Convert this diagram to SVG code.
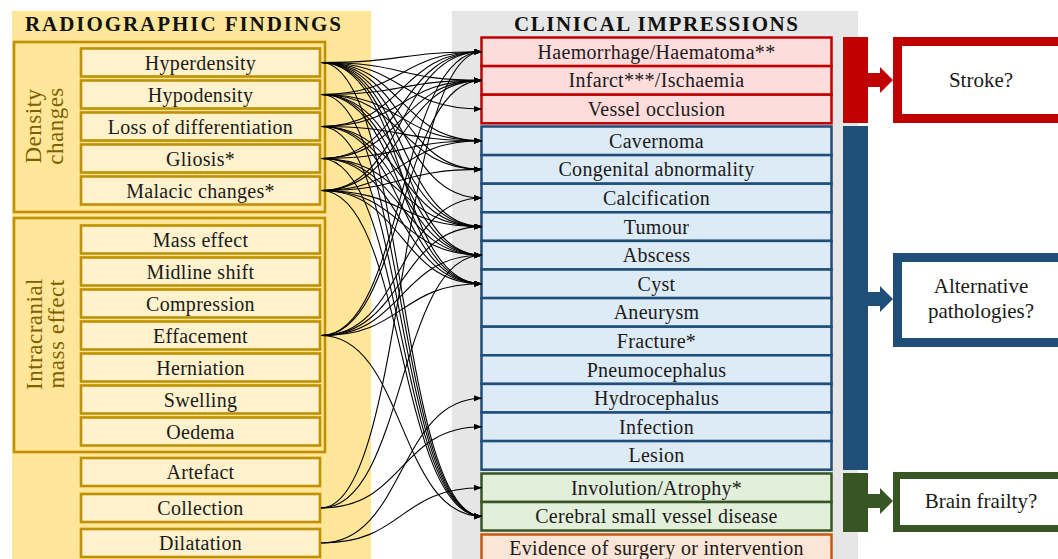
<svg xmlns="http://www.w3.org/2000/svg" width="1058" height="559" viewBox="0 0 1058 559">
<defs>
<marker id="ah" markerUnits="userSpaceOnUse" markerWidth="9" markerHeight="7" refX="8" refY="3" orient="auto">
<path d="M0,0 L8,3 L0,6 z" fill="#000"/>
</marker>
<style>
text{font-family:"Liberation Serif","DejaVu Serif",serif;fill:#1a1a1a;}
.t{font-size:20px;text-anchor:middle;letter-spacing:0.3px;}
.h{font-size:21px;font-weight:bold;fill:#111;}
.g{font-size:23px;text-anchor:middle;fill:#7F6000;letter-spacing:0.5px;}
.it{fill:#FFF2CC;stroke:#BF9000;stroke-width:2.6;}
.grp{fill:#FFE699;stroke:#BF9000;stroke-width:2.6;}
.r{fill:#FFDCDC;stroke:#C00000;stroke-width:2.5;}
.b{fill:#DDEBF7;stroke:#1F4E79;stroke-width:2.5;}
.gr{fill:#E2EFDA;stroke:#375623;stroke-width:2.5;}
.o{fill:#FBE5D6;stroke:#C55A11;stroke-width:2.5;}
.big{font-size:21px;text-anchor:middle;}
#connectors path{fill:none;stroke:#000;stroke-width:1.1;marker-end:url(#ah);}
</style>
</defs>
<rect width="1058" height="559" fill="#fff"/>
<!-- panels -->
<rect x="12" y="11" width="359" height="550" fill="#FFE699"/>
<rect x="452" y="11" width="406" height="550" fill="#E6E6E6"/>
<text class="h" x="25" y="31" textLength="316" lengthAdjust="spacing">RADIOGRAPHIC FINDINGS</text>
<text class="h" x="514" y="31" textLength="284" lengthAdjust="spacing">CLINICAL IMPRESSIONS</text>

<g id="grp-density">
<rect class="grp" x="14" y="42" width="311" height="170"/>
<text class="g" transform="translate(41,126) rotate(-90)">Density</text>
<text class="g" transform="translate(63,126) rotate(-90)">changes</text>
</g>
<g id="grp-mass">
<rect class="grp" x="14" y="218" width="311" height="234"/>
<text class="g" transform="translate(42,334) rotate(-90)">Intracranial</text>
<text class="g" transform="translate(64,334) rotate(-90)">mass effect</text>
</g>

<g id="n-hyperdensity"><rect class="it" x="81" y="48.5" width="239" height="28"/><text class="t" x="200.5" y="69.5">Hyperdensity</text></g>
<g id="n-hypodensity"><rect class="it" x="81" y="80.5" width="239" height="28"/><text class="t" x="200.5" y="101.5">Hypodensity</text></g>
<g id="n-loss"><rect class="it" x="81" y="112.5" width="239" height="28"/><text class="t" x="200.5" y="133.5">Loss of differentiation</text></g>
<g id="n-gliosis"><rect class="it" x="81" y="144.5" width="239" height="28"/><text class="t" x="200.5" y="165.5">Gliosis*</text></g>
<g id="n-malacic"><rect class="it" x="81" y="176.5" width="239" height="28"/><text class="t" x="200.5" y="197.5">Malacic changes*</text></g>

<g id="n-mass"><rect class="it" x="81" y="225.5" width="239" height="28"/><text class="t" x="200.5" y="246.5">Mass effect</text></g>
<g id="n-midline"><rect class="it" x="81" y="257.5" width="239" height="28"/><text class="t" x="200.5" y="278.5">Midline shift</text></g>
<g id="n-compression"><rect class="it" x="81" y="289.5" width="239" height="28"/><text class="t" x="200.5" y="310.5">Compression</text></g>
<g id="n-effacement"><rect class="it" x="81" y="321.5" width="239" height="28"/><text class="t" x="200.5" y="342.5">Effacement</text></g>
<g id="n-herniation"><rect class="it" x="81" y="353.5" width="239" height="28"/><text class="t" x="200.5" y="374.5">Herniation</text></g>
<g id="n-swelling"><rect class="it" x="81" y="385.5" width="239" height="28"/><text class="t" x="200.5" y="406.5">Swelling</text></g>
<g id="n-oedema"><rect class="it" x="81" y="417.5" width="239" height="28"/><text class="t" x="200.5" y="438.5">Oedema</text></g>

<g id="n-artefact"><rect class="it" x="81" y="458" width="239" height="28"/><text class="t" x="200.5" y="479">Artefact</text></g>
<g id="n-collection"><rect class="it" x="81" y="494" width="239" height="28"/><text class="t" x="200.5" y="515">Collection</text></g>
<g id="n-dilatation"><rect class="it" x="81" y="529" width="239" height="28"/><text class="t" x="200.5" y="550">Dilatation</text></g>

<!-- clinical -->
<g id="c-haem"><rect class="r" x="481.5" y="37.5" width="350" height="28.6"/><text class="t" x="656.5" y="58.8">Haemorrhage/Haematoma**</text></g>
<g id="c-infarct"><rect class="r" x="481.5" y="66.1" width="350" height="28.6"/><text class="t" x="656.5" y="87.4">Infarct***/Ischaemia</text></g>
<g id="c-vessel"><rect class="r" x="481.5" y="94.7" width="350" height="28.6"/><text class="t" x="656.5" y="116">Vessel occlusion</text></g>

<g id="c-cavernoma"><rect class="b" x="481.5" y="126.5" width="350" height="28.6"/><text class="t" x="656.5" y="147.8">Cavernoma</text></g>
<g id="c-congenital"><rect class="b" x="481.5" y="155.1" width="350" height="28.6"/><text class="t" x="656.5" y="176.4">Congenital abnormality</text></g>
<g id="c-calcification"><rect class="b" x="481.5" y="183.7" width="350" height="28.6"/><text class="t" x="656.5" y="205">Calcification</text></g>
<g id="c-tumour"><rect class="b" x="481.5" y="212.3" width="350" height="28.6"/><text class="t" x="656.5" y="233.6">Tumour</text></g>
<g id="c-abscess"><rect class="b" x="481.5" y="240.9" width="350" height="28.6"/><text class="t" x="656.5" y="262.2">Abscess</text></g>
<g id="c-cyst"><rect class="b" x="481.5" y="269.5" width="350" height="28.6"/><text class="t" x="656.5" y="290.8">Cyst</text></g>
<g id="c-aneurysm"><rect class="b" x="481.5" y="298.1" width="350" height="28.6"/><text class="t" x="656.5" y="319.4">Aneurysm</text></g>
<g id="c-fracture"><rect class="b" x="481.5" y="326.7" width="350" height="28.6"/><text class="t" x="656.5" y="348">Fracture*</text></g>
<g id="c-pneumo"><rect class="b" x="481.5" y="355.3" width="350" height="28.6"/><text class="t" x="656.5" y="376.6">Pneumocephalus</text></g>
<g id="c-hydro"><rect class="b" x="481.5" y="383.9" width="350" height="28.6"/><text class="t" x="656.5" y="405.2">Hydrocephalus</text></g>
<g id="c-infection"><rect class="b" x="481.5" y="412.5" width="350" height="28.6"/><text class="t" x="656.5" y="433.8">Infection</text></g>
<g id="c-lesion"><rect class="b" x="481.5" y="441.1" width="350" height="28.6"/><text class="t" x="656.5" y="462.4">Lesion</text></g>

<g id="c-involution"><rect class="gr" x="481.5" y="473.5" width="350" height="28.5"/><text class="t" x="656.5" y="494.8">Involution/Atrophy*</text></g>
<g id="c-csvd"><rect class="gr" x="481.5" y="502" width="350" height="28.5"/><text class="t" x="656.5" y="523.3">Cerebral small vessel disease</text></g>
<g id="c-surgery"><rect class="o" x="481.5" y="534.5" width="350" height="28.5"/><text class="t" x="656.5" y="555">Evidence of surgery or intervention</text></g>

<!-- side bars and outcome boxes -->
<g id="o-stroke">
<rect x="843" y="37" width="25" height="86" fill="#C00000"/>
<polygon points="867,73 880,73 880,67 893,80 880,93 880,87 867,87" fill="#C00000"/>
<rect x="897.5" y="41.5" width="180" height="77" fill="#fff" stroke="#C00000" stroke-width="9"/>
<text class="big" x="981" y="87">Stroke?</text>
</g>
<g id="o-alt">
<rect x="843" y="126" width="25" height="344" fill="#1F4E79"/>
<polygon points="867,292 880,292 880,286 893,299 880,312 880,306 867,306" fill="#1F4E79"/>
<rect x="897.5" y="257.5" width="180" height="85" fill="#fff" stroke="#1F4E79" stroke-width="9"/>
<text class="big" x="981" y="293">Alternative</text>
<text class="big" x="981" y="318">pathologies?</text>
</g>
<g id="o-frailty">
<rect x="843" y="473" width="25" height="59" fill="#375623"/>
<polygon points="867,494 880,494 880,488 893,501 880,514 880,508 867,508" fill="#375623"/>
<rect x="896.5" y="475.5" width="180" height="53" fill="#fff" stroke="#375623" stroke-width="7"/>
<text class="big" x="981" y="508">Brain frailty?</text>
</g>

<g id="connectors">
<!-- Hyperdensity 62.5 -->
<path d="M321,62.5 C405,62.5 398,51.8 482,51.8"/>
<path d="M321,62.5 C405,62.5 398,80.4 482,80.4"/>
<path d="M321,62.5 C405,62.5 398,109 482,109"/>
<path d="M321,62.5 C405,62.5 398,140.8 482,140.8"/>
<path d="M321,62.5 C405,62.5 398,169.4 482,169.4"/>
<path d="M321,62.5 C405,62.5 398,198 482,198"/>
<path d="M321,62.5 C405,62.5 398,226.6 482,226.6"/>
<path d="M321,62.5 C405,62.5 398,255.2 482,255.2"/>
<path d="M321,62.5 C405,62.5 398,283.8 482,283.8"/>
<path d="M321,62.5 C405,62.5 398,516.3 482,516.3"/>
<!-- Hypodensity 94.5 -->
<path d="M321,94.5 C405,94.5 398,51.8 482,51.8"/>
<path d="M321,94.5 C405,94.5 398,80.4 482,80.4"/>
<path d="M321,94.5 C405,94.5 398,140.8 482,140.8"/>
<path d="M321,94.5 C405,94.5 398,169.4 482,169.4"/>
<path d="M321,94.5 C405,94.5 398,226.6 482,226.6"/>
<path d="M321,94.5 C405,94.5 398,255.2 482,255.2"/>
<path d="M321,94.5 C405,94.5 398,283.8 482,283.8"/>
<path d="M321,94.5 C405,94.5 398,516.3 482,516.3"/>
<!-- Loss of differentiation 126.5 -->
<path d="M321,126.5 C405,126.5 398,51.8 482,51.8"/>
<path d="M321,126.5 C405,126.5 398,80.4 482,80.4"/>
<path d="M321,126.5 C405,126.5 398,140.8 482,140.8"/>
<path d="M321,126.5 C405,126.5 398,226.6 482,226.6"/>
<path d="M321,126.5 C405,126.5 398,255.2 482,255.2"/>
<path d="M321,126.5 C405,126.5 398,283.8 482,283.8"/>
<path d="M321,126.5 C405,126.5 398,516.3 482,516.3"/>
<!-- Gliosis 158.5 -->
<path d="M321,158.5 C405,158.5 398,51.8 482,51.8"/>
<path d="M321,158.5 C405,158.5 398,80.4 482,80.4"/>
<path d="M321,158.5 C405,158.5 398,140.8 482,140.8"/>
<path d="M321,158.5 C405,158.5 398,226.6 482,226.6"/>
<path d="M321,158.5 C405,158.5 398,255.2 482,255.2"/>
<path d="M321,158.5 C405,158.5 398,283.8 482,283.8"/>
<path d="M321,158.5 C405,158.5 398,516.3 482,516.3"/>
<!-- Malacic 190.5 -->
<path d="M321,190.5 C405,190.5 398,51.8 482,51.8"/>
<path d="M321,190.5 C405,190.5 398,80.4 482,80.4"/>
<path d="M321,190.5 C405,190.5 398,140.8 482,140.8"/>
<path d="M321,190.5 C405,190.5 398,169.4 482,169.4"/>
<path d="M321,190.5 C405,190.5 398,226.6 482,226.6"/>
<path d="M321,190.5 C405,190.5 398,255.2 482,255.2"/>
<path d="M321,190.5 C405,190.5 398,283.8 482,283.8"/>
<path d="M321,190.5 C405,190.5 398,516.3 482,516.3"/>
<!-- Effacement 335.5 -->
<path d="M321,335.5 C405,335.5 398,51.8 482,51.8"/>
<path d="M321,335.5 C405,335.5 398,80.4 482,80.4"/>
<path d="M321,335.5 C405,335.5 398,198 482,198"/>
<path d="M321,335.5 C405,335.5 398,226.6 482,226.6"/>
<path d="M321,335.5 C405,335.5 398,255.2 482,255.2"/>
<path d="M321,335.5 C405,335.5 398,283.8 482,283.8"/>
<path d="M321,335.5 C405,335.5 398,516.3 482,516.3"/>
<!-- Collection 508 -->
<path d="M321,508 C405,508 398,51.8 482,51.8"/>
<path d="M321,508 C405,508 398,255.2 482,255.2"/>
<path d="M321,508 C405,508 398,426.8 482,426.8"/>
<!-- Dilatation 543 -->
<path d="M321,543 C405,543 398,398.2 482,398.2"/>
<path d="M321,543 C405,543 398,487.8 482,487.8"/>
</g>
</svg>
